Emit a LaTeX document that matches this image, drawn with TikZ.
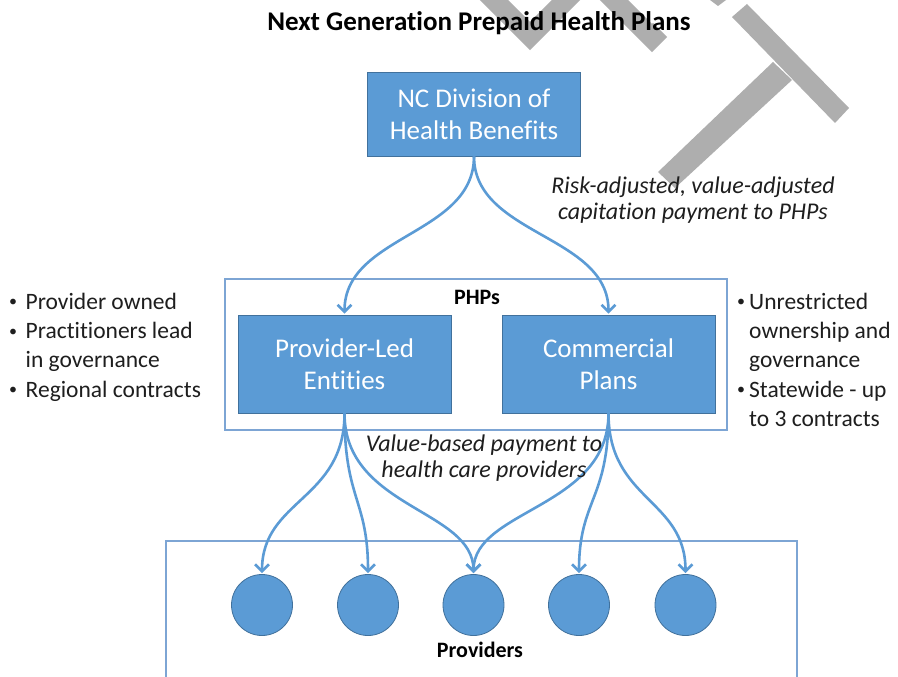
\documentclass[tikz,border=0pt]{standalone}
\usepackage{fontspec}
\setmainfont{Carlito}[Ligatures={NoCommon}]
\usetikzlibrary{arrows.meta,shapes.geometric}
\definecolor{blu}{RGB}{91,155,213}
\definecolor{bluedge}{RGB}{65,113,156}
\definecolor{frame}{RGB}{125,165,212}
\definecolor{wmark}{RGB}{174,174,174}
\definecolor{txt}{RGB}{30,30,30}
\newcommand{\smallbul}{\raisebox{2.6pt}{\fontsize{16}{16}\selectfont\textbullet}}
\newcommand{\lbul}{\makebox[16.5pt][l]{\smallbul}}
\newcommand{\lind}{\hspace*{16.5pt}}
\newcommand{\rbul}{\makebox[12pt][l]{\smallbul}}
\newcommand{\rind}{\hspace*{12pt}}
\begin{document}
\begin{tikzpicture}[x=1pt,y=-1pt,
  bluebox/.style={draw=bluedge, line width=0.8pt, fill=blu, text=white,
    font=\fontsize{27}{32}\selectfont, align=center, inner sep=0pt,
    minimum width=213pt},
  frameline/.style={draw=frame, line width=1.2pt},
  dot/.style={circle, draw=bluedge, line width=0.8pt, fill=blu, minimum size=61pt, inner sep=0pt},
  conn/.style={draw=blu, line width=2.6pt, -{Straight Barb[length=7pt,width=14pt]}, shorten >=1pt},
  wm/.style={draw=wmark, line width=20pt, line cap=butt, line join=miter},
  wmfill/.style={fill=wmark},
  bullets/.style={font=\fontsize{23.5}{29.2}\selectfont, text=txt, align=left, inner sep=0pt},
  note/.style={font=\fontsize{24}{26.5}\selectfont\itshape, text=txt, align=center, inner sep=0pt},
  heading/.style={font=\fontsize{22}{26}\selectfont\bfseries, text=black, inner sep=0pt}
]
\useasboundingbox (0,0) rectangle (898,677);
\fill[white] (0,0) rectangle (898,677);

% watermark fragments
\draw[wm] (480,-14) -- (530,36) -- (580,-14);
\draw[wm] (600,-14) -- (652,38) -- (660,30);
\fill[wmfill] (710,0) -- (726,0) -- (718,6) -- cycle;
\fill[wmfill] (732,17) -- (747,4) -- (849,108) -- (835,123) -- cycle;
\fill[wmfill] (773,62) -- (792,80) -- (675,188) -- (658,172) -- cycle;

% title
\node[anchor=base, font=\fontsize{27}{32}\selectfont\bfseries, inner sep=0pt] (title) at (479,31) {Next Generation Prepaid Health Plans};

% frames
\draw[frameline] (225,279) rectangle (727,430);
\draw[frameline] (166,690) -- (166,541) -- (797,541) -- (797,690);
\node[heading] (phps) at (477,297) {PHPs};
\node[heading] (provlabel) at (480,650) {Providers};

% boxes
\node[bluebox, minimum height=84pt] (nc) at (474,114) {NC Division of\\Health Benefits};
\node[bluebox, minimum height=98pt] (ple) at (344.5,364) {Provider-Led\\Entities};
\node[bluebox, minimum height=98pt] (cp) at (608.5,364) {Commercial\\Plans};

% provider circles
\node[dot] (p1) at (262,605) {};
\node[dot] (p2) at (368,605) {};
\node[dot] (p3) at (473.5,605) {};
\node[dot] (p4) at (579,605) {};
\node[dot] (p5) at (685.5,605) {};

% connectors
\draw[conn] (nc.south) .. controls +(0,79) and +(0,-80) .. (ple.north);
\draw[conn] (nc.south) .. controls +(0,79) and +(0,-80) .. (cp.north);

\draw[conn] (ple.south) .. controls +(0,87) and +(0,-75) .. (p1.north);
\draw[conn] (ple.south) .. controls +(0,87) and +(0,-75) .. (p2.north);
\draw[conn] (ple.south) .. controls +(0,95) and +(0,-65) .. (p3.north);
\draw[conn] (cp.south) .. controls +(0,95) and +(0,-65) .. (p3.north);
\draw[conn] (cp.south) .. controls +(0,87) and +(0,-75) .. (p4.north);
\draw[conn] (cp.south) .. controls +(0,87) and +(0,-75) .. (p5.north);

% notes
\node[note] (capnote) at (693,200) {Risk-adjusted, value-adjusted\\capitation payment to PHPs};
\node[note] (vbnote) at (484,458) {Value-based payment to\\health care providers};

% bullet lists
\node[bullets, anchor=north west] (leftlist) at (9,293) {\lbul Provider owned\\\lbul Practitioners lead\\\lind in governance\\\lbul Regional contracts};
\node[bullets, anchor=north west] (rightlist) at (737,293) {\rbul Unrestricted\\\rind ownership and\\\rind governance\\\rbul Statewide - up\\\rind to 3 contracts};
\end{tikzpicture}
\end{document}
